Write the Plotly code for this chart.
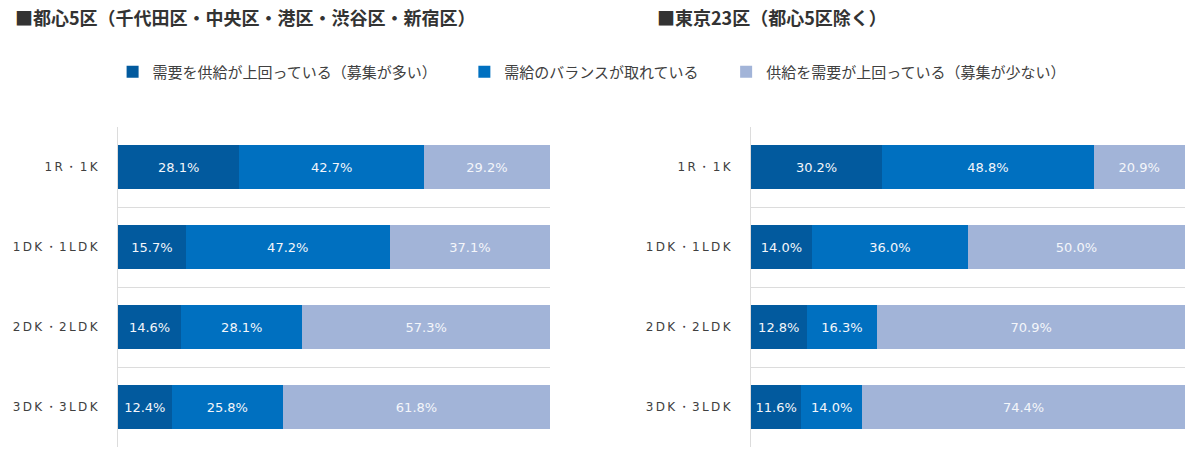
import plotly.graph_objects as go

T = "\u2009"
categories = [T.join(["1", "R", "・", "1", "K"]),
              T.join(["1", "D", "K", "・", "1", "L", "D", "K"]),
              T.join(["2", "D", "K", "・", "2", "L", "D", "K"]),
              T.join(["3", "D", "K", "・", "3", "L", "D", "K"])]
series_names = ["需要を供給が上回っている（募集が多い）", "需給のバランスが取れている", "供給を需要が上回っている（募集が少ない）"]
legend_labels = [series_names[0] + "\u3000\u3000", series_names[1] + "\u3000\u2002", series_names[2]]
colors = ["#025A9E", "#0070C0", "#A2B4D8"]

central5_high = [28.1, 15.7, 14.6, 12.4]
central5_balanced = [42.7, 47.2, 28.1, 25.8]
central5_low = [29.2, 37.1, 57.3, 61.8]

other23_high = [30.2, 14.0, 12.8, 11.6]
other23_balanced = [48.8, 36.0, 16.3, 14.0]
other23_low = [20.9, 50.0, 70.9, 74.4]

titles = ["■都心5区（千代田区・中央区・港区・渋谷区・新宿区）", "■東京23区（都心5区除く）"]

JP = "Noto Sans CJK JP"
W, H = 1200, 465

fig = go.Figure()
panels = [
    ("x", "y", [central5_high, central5_balanced, central5_low]),
    ("x2", "y2", [other23_high, other23_balanced, other23_low]),
]
for pi, (xa, ya, vals) in enumerate(panels):
    for si, v in enumerate(vals):
        fig.add_trace(go.Bar(
            x=v, y=categories, orientation="h",
            name=legend_labels[si], marker=dict(color=colors[si], line=dict(width=0)),
            xaxis=xa, yaxis=ya, showlegend=(pi == 0), legendgroup=series_names[si],
            texttemplate="%{x:.1f}%", textposition="inside", insidetextanchor="middle",
            textfont=dict(family="DejaVu Sans", size=13, color="#F4F6FA"),
            constraintext="none", hoverinfo="skip",
        ))

ytop = 1 - 127 / H
ybot = 1 - 447 / H
yaxis_common = dict(
    type="category", categoryorder="array", categoryarray=categories,
    autorange="reversed", tickson="boundaries", showgrid=True,
    gridcolor="#DCDCDC", gridwidth=1, showline=True, linecolor="#DCDCDC", linewidth=1,
    ticks="", ticklabelstandoff=17,
    tickfont=dict(family="DejaVu Sans", size=12, color="#404040"),
    domain=[ybot, ytop], automargin=False, fixedrange=True,
)
xaxis_common = dict(range=[0, 100], showgrid=False, zeroline=False, showticklabels=False,
                    showline=False, fixedrange=True, automargin=False)

fig.update_layout(
    width=W, height=H,
    margin=dict(l=0, r=0, t=0, b=0),
    paper_bgcolor="white", plot_bgcolor="white",
    barmode="stack", bargap=0.44,
    font=dict(family=JP, color="#404040"),
    xaxis=dict(**xaxis_common, domain=[118 / W, 550 / W]),
    xaxis2=dict(**xaxis_common, domain=[751 / W, 1185 / W]),
    yaxis=dict(**yaxis_common, anchor="x"),
    yaxis2=dict(**yaxis_common, anchor="x2"),
    legend=dict(orientation="h", x=0.493, xanchor="center", y=1 - 72 / H, yanchor="middle",
                font=dict(family=JP, size=15, color="#404040"), traceorder="normal",
                bgcolor="rgba(0,0,0,0)"),
    annotations=[
        dict(text=titles[0], x=13 / W, y=1 - 17 / H, xref="paper", yref="paper",
             xanchor="left", yanchor="middle", showarrow=False,
             font=dict(family=JP, size=18, color="#333333", weight="bold")),
        dict(text=titles[1], x=655 / W, y=1 - 17 / H, xref="paper", yref="paper",
             xanchor="left", yanchor="middle", showarrow=False,
             font=dict(family=JP, size=18, color="#333333", weight="bold")),
    ],
)

fig.write_html("out.html")
